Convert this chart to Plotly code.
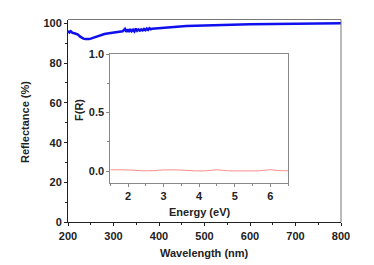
import plotly.graph_objects as go

# Main curve: reflectance vs wavelength
wavelength = [200, 203, 206, 210, 214, 218, 222, 226, 230, 234, 238, 242, 246, 250, 255, 260, 265, 270,
              275, 280, 290, 300, 310, 320, 325, 328, 331, 334, 337, 340, 343, 346, 349, 352, 355,
              358, 361, 364, 367, 370, 373, 376, 379, 382, 385, 390, 400, 420, 440, 460, 480, 500,
              530, 560, 600, 640, 680, 720, 760, 790, 800]
reflectance = [96.2, 95.4, 96.0, 95.2, 95.0, 94.8, 94.3, 93.4, 92.7, 92.3, 92.1, 92.0, 92.1, 92.3, 92.7, 93.1, 93.5, 93.9,
               94.3, 94.6, 95.0, 95.4, 95.7, 96.0, 97.2, 95.7, 96.9, 95.6, 97.1, 96.0, 96.8, 95.9, 97.3, 96.2, 96.9,
               96.3, 96.9, 96.4, 97.1, 96.5, 97.3, 96.7, 97.5, 97.0, 97.3, 97.4, 97.7, 98.0, 98.3, 98.6, 98.8, 99.0,
               99.2, 99.3, 99.5, 99.6, 99.7, 99.8, 99.8, 99.9, 100.0]

# Inset curve: F(R) vs energy
energy = [1.5, 1.8, 2.1, 2.4, 2.7, 3.0, 3.3, 3.6, 3.9, 4.2, 4.5, 4.8, 5.1, 5.4, 5.7, 6.0, 6.2, 6.5]
fr = [0.010, 0.010, 0.008, 0.002, 0.003, 0.009, 0.010, 0.006, 0.001, 0.002, 0.010, 0.002, 0.001, 0.001, 0.002, 0.011, 0.004, 0.002]

# page offset (body margin) compensation
OFF = 8
W, H = 374 - OFF, 265 - OFF


def px(x):
    return (x - OFF) / W


def py(y):
    return 1 - (y - OFF) / H


font = dict(family="Liberation Sans, Arial, sans-serif", size=11, color="#222", weight="bold")

fig = go.Figure()
fig.add_trace(go.Scatter(x=wavelength, y=reflectance, mode="lines",
                         line=dict(color="#1010ee", width=2.5), xaxis="x", yaxis="y"))
fig.add_trace(go.Scatter(x=energy, y=fr, mode="lines", line=dict(color="#ff8c8c", width=1, shape="spline"),
                         xaxis="x2", yaxis="y2"))

ax_common = dict(showgrid=False, zeroline=False, ticks="outside", showline=True,
                 tickfont=font, ticklen=3, tickwidth=1, automargin=False)

fig.update_layout(
    width=W, height=H, margin=dict(l=0, r=0, t=0, b=0, autoexpand=False),
    paper_bgcolor="white", plot_bgcolor="white", showlegend=False,
    xaxis=dict(domain=[px(68), px(341)], range=[200, 800], dtick=100, tick0=200, mirror=False,
               linecolor="#222", tickcolor="#222", minor=dict(ticks="outside", dtick=50, ticklen=2, tickcolor="#222"),
               anchor="y", **ax_common),
    yaxis=dict(domain=[py(222.3), py(19.5)], range=[0, 101.9], dtick=20, tick0=0, mirror=False,
               linecolor="#222", tickcolor="#222", minor=dict(ticks="outside", dtick=10, ticklen=2, tickcolor="#222"),
               anchor="x", **ax_common),
    xaxis2=dict(domain=[px(110.3), px(288)], range=[1.5, 6.5], dtick=1, tick0=2, mirror=True,
                linecolor="#888", tickcolor="#888", minor=dict(ticks="outside", dtick=0.5, ticklen=2, tickcolor="#888"),
                anchor="y2", **ax_common),
    yaxis2=dict(domain=[py(182.7), py(54)], range=[-0.1, 1.0], dtick=0.5, tick0=0, tickformat=".1f", mirror=True,
                linecolor="#888", tickcolor="#888", minor=dict(ticks="outside", dtick=0.25, ticklen=2, tickcolor="#888"),
                anchor="x2", **ax_common),
    shapes=[
        dict(type="line", xref="x domain", yref="y domain", x0=0, x1=1, y0=1, y1=1,
             line=dict(color="#777", width=1)),
        dict(type="line", xref="x domain", yref="y domain", x0=1, x1=1, y0=0, y1=1,
             line=dict(color="#777", width=1)),
    ],
    annotations=[
        dict(text="Wavelength (nm)", x=px((68+341)/2), y=py(253), xref="paper", yref="paper",
             showarrow=False, font=font, xanchor="center", yanchor="middle"),
        dict(text="Reflectance (%)", x=px(25), y=py(122), xref="paper", yref="paper",
             showarrow=False, font=font, textangle=-90, xanchor="center", yanchor="middle"),
        dict(text="Energy (eV)", x=px((110.3+288)/2), y=py(212), xref="paper", yref="paper",
             showarrow=False, font=font, xanchor="center", yanchor="middle"),
        dict(text="F(R)", x=px(79), y=py(110), xref="paper", yref="paper",
             showarrow=False, font=font, textangle=-90, xanchor="center", yanchor="middle"),
    ],
)

fig.write_html("out.html")
